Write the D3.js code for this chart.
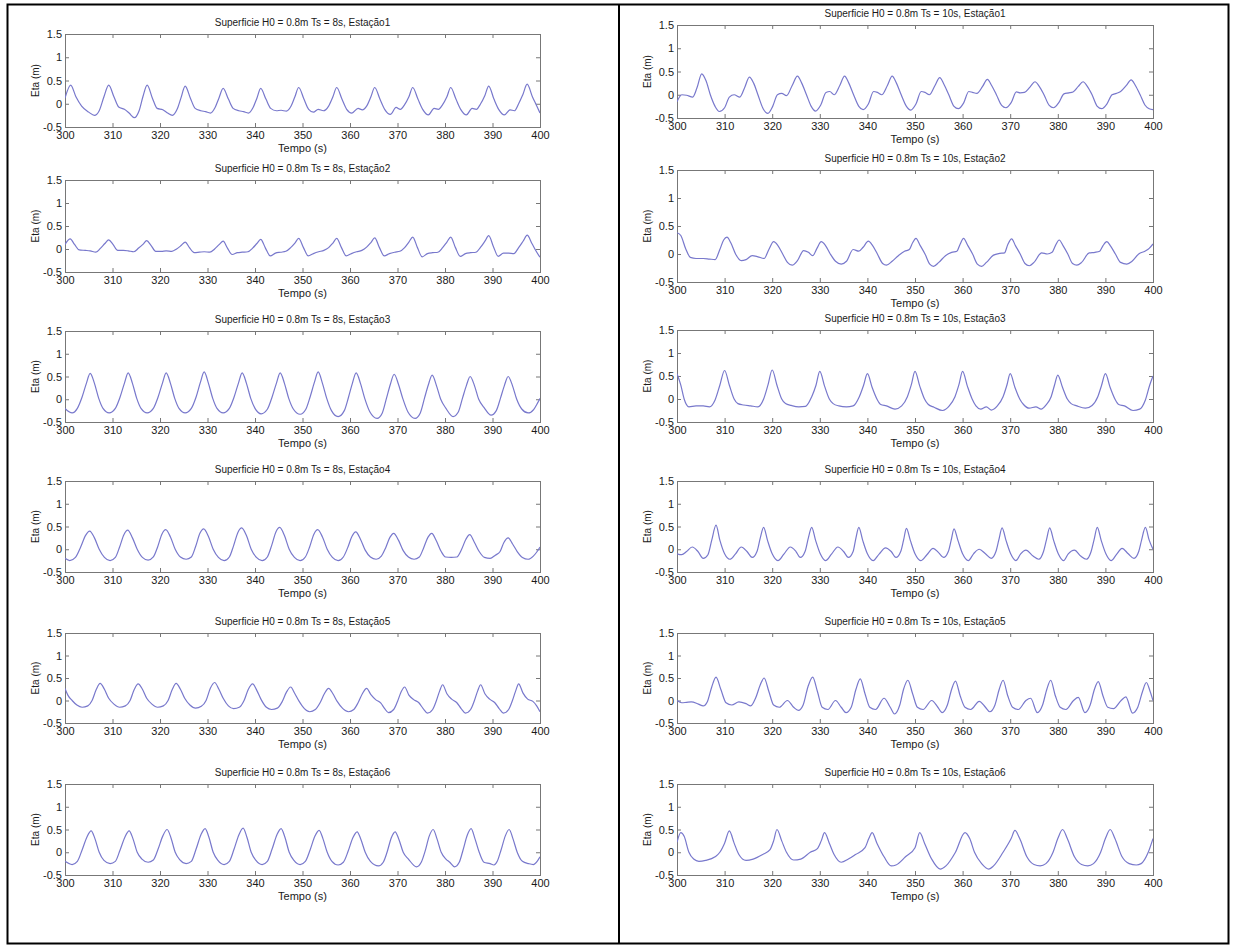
<!DOCTYPE html>
<html><head><meta charset="utf-8">
<script src="https://cdn.jsdelivr.net/npm/d3@7"></script>
<style>
body{margin:0;background:#fff}
svg{display:block}
text{font-family:"Liberation Sans",Arial,sans-serif;fill:#1a1a1a}
</style>
</head><body>
<svg id="c" width="1236" height="949"></svg>
<script>
// ---------- data ----------
const xTicks = [300,310,320,330,340,350,360,370,380,390,400];
const yTicks = [-0.5,0,0.5,1,1.5];
const yTickLabels = ["-0.5","0","0.5","1","1.5"];
const xLabel = "Tempo (s)";
const yLabel = "Eta (m)";
const periods = ["8s","10s"];
const stations = ["Estação1","Estação2","Estação3","Estação4","Estação5","Estação6"];

// Ts = 8s
const s8_1 = [[300,0.12],[301.2,0.4],[302.3,0.15],[303.5,-0.05],[305,-0.18],[306.2,-0.25],[307.2,-0.15],[308.2,0.15],[309.2,0.4],[310.3,0.15],[311.3,-0.07],[312.5,-0.12],[313.5,-0.2],[314.6,-0.3],[315.6,-0.15],[316.4,0.15],[317.3,0.4],[318.4,0.12],[319.4,-0.1],[320.6,-0.13],[321.6,-0.2],[322.6,-0.25],[323.6,-0.12],[324.4,0.12],[325.3,0.38],[326.4,0.12],[327.4,-0.1],[328.6,-0.15],[329.6,-0.17],[330.6,-0.2],[331.6,-0.08],[332.4,0.12],[333.3,0.33],[334.4,0.1],[335.4,-0.1],[336.6,-0.15],[337.6,-0.17],[338.6,-0.2],[339.6,-0.08],[340.4,0.12],[341.2,0.33],[342.3,0.1],[343.3,-0.1],[344.5,-0.15],[345.5,-0.14],[346.6,-0.16],[347.6,-0.05],[348.4,0.15],[349.2,0.35],[350.3,0.1],[351.3,-0.12],[352.3,-0.18],[353.3,-0.12],[354.4,-0.15],[355.5,-0.05],[356.4,0.15],[357.2,0.35],[358.3,0.1],[359.3,-0.12],[360.4,-0.2],[361.7,-0.1],[362.6,-0.13],[363.5,-0.05],[364.4,0.15],[365.2,0.35],[366.3,0.1],[367.3,-0.12],[368.5,-0.23],[369.7,-0.08],[370.6,-0.12],[371.5,-0.02],[372.4,0.15],[373.2,0.35],[374.3,0.1],[375.3,-0.12],[376.5,-0.24],[377.7,-0.1],[378.6,-0.12],[379.5,-0.02],[380.4,0.15],[381.2,0.35],[382.3,0.1],[383.3,-0.12],[384.5,-0.24],[385.7,-0.1],[386.6,-0.12],[387.5,0],[388.4,0.18],[389.2,0.38],[390.3,0.1],[391.3,-0.12],[392.5,-0.24],[393.7,-0.13],[394.6,-0.15],[395.5,0],[396.4,0.2],[397.3,0.42],[398.4,0.15],[399.2,-0.02],[400,-0.2]];
const s8_2 = [[300,0.1],[301.1,0.22],[302,0.1],[303,-0.02],[304.3,-0.03],[305.3,-0.04],[306.5,-0.07],[307.5,0.02],[308.4,0.12],[309.2,0.2],[310.1,0.1],[311.1,-0.03],[312.3,-0.03],[313.3,-0.04],[314.5,-0.06],[315.5,0.02],[316.4,0.1],[317.2,0.18],[318.1,0.08],[319.1,-0.05],[320.3,-0.05],[321.3,-0.04],[322.5,-0.05],[323.5,0],[324.5,0.08],[325.3,0.15],[326.2,0.03],[327.2,-0.08],[328.3,-0.07],[329.3,-0.06],[330.5,-0.07],[331.5,0],[332.5,0.1],[333.3,0.17],[334.2,0.02],[335.2,-0.12],[336.3,-0.08],[337.3,-0.07],[338.5,-0.06],[339.5,0.02],[340.4,0.12],[341.2,0.21],[342.2,0.02],[343.2,-0.15],[344.3,-0.09],[345.4,-0.07],[346.5,-0.05],[347.5,0.03],[348.4,0.13],[349.2,0.23],[350.2,0.03],[351.2,-0.15],[352.3,-0.1],[353.4,-0.06],[354.5,-0.03],[355.5,0.03],[356.4,0.13],[357.2,0.23],[358.2,0.03],[359.2,-0.15],[360.3,-0.1],[361.4,-0.06],[362.5,-0.03],[363.5,0.04],[364.4,0.14],[365.2,0.24],[366.2,0.03],[367.2,-0.15],[368.3,-0.1],[369.4,-0.07],[370.5,-0.05],[371.5,0.03],[372.4,0.15],[373.2,0.26],[374.2,0.03],[375.2,-0.17],[376.3,-0.1],[377.4,-0.08],[378.5,-0.07],[379.5,0.03],[380.4,0.15],[381.2,0.26],[382.2,0.03],[383.2,-0.16],[384.3,-0.1],[385.4,-0.08],[386.5,-0.07],[387.5,0.04],[388.4,0.17],[389.2,0.29],[390.2,0.05],[391.2,-0.16],[392.3,-0.09],[393.4,-0.09],[394.5,-0.1],[395.5,0.03],[396.5,0.18],[397.3,0.3],[398.3,0.12],[399.2,-0.05],[400,-0.18]];
const s8_3 = [[300,-0.2],[301.5,-0.3],[302.6,-0.2],[303.6,0.05],[304.5,0.35],[305.3,0.57],[306.2,0.35],[307.1,0.02],[308,-0.2],[309.3,-0.3],[310.6,-0.2],[311.6,0.05],[312.5,0.35],[313.3,0.58],[314.2,0.35],[315.1,0.02],[316,-0.2],[317.3,-0.3],[318.6,-0.2],[319.6,0.05],[320.5,0.35],[321.3,0.58],[322.2,0.35],[323.1,0.02],[324,-0.2],[325.3,-0.3],[326.6,-0.2],[327.6,0.05],[328.5,0.37],[329.3,0.6],[330.2,0.35],[331.1,0.02],[332,-0.2],[333.3,-0.3],[334.6,-0.2],[335.6,0.05],[336.5,0.35],[337.3,0.58],[338.2,0.35],[339.1,0.02],[340,-0.2],[341.3,-0.32],[342.6,-0.22],[343.6,0.05],[344.5,0.35],[345.3,0.58],[346.2,0.35],[347.1,0.02],[348.1,-0.22],[349.5,-0.33],[350.7,-0.22],[351.6,0.05],[352.5,0.37],[353.3,0.6],[354.2,0.35],[355.1,0.02],[356.1,-0.25],[357.5,-0.38],[358.8,-0.25],[359.7,0.05],[360.5,0.35],[361.3,0.58],[362.2,0.35],[363.1,0.02],[364.2,-0.28],[365.7,-0.42],[366.8,-0.3],[367.7,0.03],[368.5,0.33],[369.3,0.55],[370.2,0.33],[371.1,0.02],[372.2,-0.28],[373.7,-0.42],[374.8,-0.3],[375.7,0.03],[376.5,0.32],[377.3,0.53],[378.2,0.3],[379.1,0],[380.2,-0.2],[381.7,-0.38],[382.8,-0.28],[383.7,0.03],[384.5,0.3],[385.3,0.5],[386.2,0.3],[387.1,0],[388.2,-0.18],[389.7,-0.35],[390.8,-0.25],[391.7,0.03],[392.5,0.3],[393.3,0.5],[394.2,0.3],[395.1,0],[396.2,-0.22],[397.5,-0.3],[398.7,-0.22],[399.5,-0.08],[400,0.02]];
const s8_4 = [[300,-0.2],[301,-0.25],[302.2,-0.18],[303.3,0.05],[304.3,0.3],[305.2,0.4],[306.2,0.25],[307.2,0],[308.3,-0.18],[309.5,-0.25],[310.6,-0.18],[311.5,0.05],[312.4,0.32],[313.2,0.42],[314.2,0.25],[315.2,0],[316.3,-0.18],[317.5,-0.24],[318.6,-0.17],[319.5,0.05],[320.4,0.33],[321.2,0.43],[322.2,0.27],[323.2,0],[324.3,-0.17],[325.5,-0.22],[326.6,-0.17],[327.5,0.06],[328.4,0.35],[329.2,0.45],[330.2,0.28],[331.2,0],[332.3,-0.18],[333.5,-0.25],[334.6,-0.17],[335.5,0.08],[336.4,0.37],[337.2,0.47],[338.2,0.3],[339.2,0],[340.3,-0.18],[341.5,-0.25],[342.6,-0.17],[343.5,0.08],[344.4,0.38],[345.2,0.48],[346.2,0.3],[347.2,0],[348.3,-0.18],[349.5,-0.25],[350.6,-0.17],[351.5,0.05],[352.4,0.33],[353.2,0.43],[354.2,0.27],[355.2,0],[356.3,-0.18],[357.5,-0.25],[358.6,-0.17],[359.5,0.03],[360.4,0.28],[361.2,0.38],[362.2,0.22],[363.2,-0.02],[364.3,-0.17],[365.5,-0.22],[366.6,-0.15],[367.5,0.03],[368.4,0.26],[369.2,0.35],[370.2,0.2],[371.2,-0.03],[372.3,-0.17],[373.5,-0.22],[374.6,-0.17],[375.5,0.03],[376.4,0.26],[377.2,0.35],[378.2,0.18],[379.2,-0.05],[380.1,-0.17],[381.3,-0.18],[382.5,-0.17],[383.5,0],[384.4,0.22],[385.2,0.32],[386.2,0.15],[387.2,-0.05],[388.3,-0.18],[389.5,-0.2],[390.6,-0.13],[391.6,-0.05],[392.4,0.15],[393.3,0.25],[394.2,0.12],[395.2,-0.05],[396.3,-0.18],[397.5,-0.22],[398.6,-0.15],[399.4,-0.05],[400,0.05]];
const s8_5 = [[300,0.27],[300.6,0.12],[301.5,0],[302.5,-0.1],[303.6,-0.15],[304.8,-0.12],[305.7,0],[306.6,0.25],[307.4,0.38],[308.3,0.25],[309.2,0.05],[310.3,-0.08],[311.5,-0.15],[312.7,-0.12],[313.7,0],[314.6,0.25],[315.4,0.37],[316.3,0.25],[317.2,0.05],[318.3,-0.08],[319.5,-0.15],[320.7,-0.12],[321.7,0],[322.6,0.25],[323.4,0.38],[324.3,0.25],[325.2,0.05],[326.3,-0.1],[327.5,-0.17],[328.7,-0.13],[329.7,0],[330.6,0.27],[331.5,0.4],[332.4,0.25],[333.3,0.05],[334.4,-0.12],[335.5,-0.18],[336.7,-0.15],[337.7,0],[338.6,0.25],[339.5,0.37],[340.4,0.22],[341.3,0.02],[342.4,-0.15],[343.5,-0.2],[344.7,-0.17],[345.7,-0.03],[346.6,0.18],[347.5,0.3],[348.4,0.15],[349.3,-0.02],[350.4,-0.18],[351.5,-0.25],[352.7,-0.2],[353.7,-0.05],[354.6,0.15],[355.5,0.27],[356.4,0.15],[357.3,-0.02],[358.5,-0.18],[359.7,-0.25],[360.8,-0.2],[361.7,-0.05],[362.6,0.15],[363.5,0.27],[364.4,0.13],[365.4,0.02],[366.5,-0.06],[367.3,-0.18],[368.1,-0.27],[369.2,-0.2],[370,-0.02],[370.8,0.2],[371.5,0.3],[372.4,0.12],[373.4,0.02],[374.5,-0.05],[375.4,-0.18],[376.3,-0.28],[377.4,-0.2],[378.2,0],[378.9,0.22],[379.5,0.35],[380.4,0.15],[381.4,0.03],[382.5,-0.05],[383.4,-0.18],[384.3,-0.28],[385.4,-0.2],[386.2,0],[386.9,0.22],[387.5,0.35],[388.4,0.15],[389.4,0.03],[390.5,-0.05],[391.4,-0.18],[392.3,-0.28],[393.4,-0.2],[394.2,0],[394.9,0.22],[395.5,0.37],[396.4,0.17],[397.4,0.03],[398.5,-0.02],[399.3,-0.12],[400,-0.25]];
const s8_6 = [[300,-0.2],[301.5,-0.27],[302.6,-0.2],[303.6,0.05],[304.6,0.33],[305.5,0.47],[306.3,0.3],[307.2,0],[308.2,-0.18],[309.5,-0.25],[310.6,-0.2],[311.6,0.05],[312.6,0.33],[313.5,0.47],[314.3,0.3],[315.2,0],[316.2,-0.15],[317.5,-0.22],[318.6,-0.17],[319.6,0.07],[320.6,0.36],[321.5,0.5],[322.3,0.32],[323.2,0],[324.2,-0.17],[325.5,-0.25],[326.6,-0.2],[327.6,0.07],[328.6,0.38],[329.5,0.52],[330.3,0.33],[331.2,0],[332.2,-0.18],[333.5,-0.27],[334.6,-0.2],[335.6,0.07],[336.6,0.38],[337.5,0.53],[338.3,0.33],[339.2,0],[340.2,-0.18],[341.5,-0.27],[342.6,-0.2],[343.6,0.07],[344.6,0.38],[345.5,0.52],[346.3,0.33],[347.2,0],[348.2,-0.18],[349.5,-0.27],[350.6,-0.2],[351.6,0.05],[352.6,0.35],[353.5,0.48],[354.3,0.3],[355.2,0],[356.2,-0.2],[357.5,-0.28],[358.6,-0.22],[359.6,0.02],[360.6,0.32],[361.5,0.45],[362.3,0.28],[363.2,0],[364.3,-0.2],[366,-0.3],[367,-0.22],[367.8,0],[368.7,0.32],[369.5,0.45],[370.3,0.28],[371.2,0],[372.3,-0.15],[374,-0.32],[375,-0.22],[375.8,0.02],[376.7,0.36],[377.5,0.5],[378.3,0.3],[379.2,0],[380.2,-0.15],[381,-0.22],[382,-0.32],[383,-0.22],[383.8,0.05],[384.7,0.38],[385.5,0.52],[386.3,0.3],[387.2,0],[388.2,-0.22],[389.5,-0.25],[390.3,-0.28],[391,-0.2],[391.8,0.05],[392.7,0.36],[393.5,0.5],[394.3,0.3],[395.2,0],[396.3,-0.2],[397.6,-0.25],[398.6,-0.27],[399.4,-0.2],[400,-0.1]];

// Ts = 10s
const s10_1 = [[300,-0.15],[301,0],[302,-0.01],[303.3,-0.05],[304.2,0.15],[305.2,0.45],[306.1,0.3],[307,0],[308,-0.25],[308.9,-0.36],[310,-0.28],[311,-0.05],[312,0],[313.2,-0.05],[314.2,0.15],[315.2,0.38],[316.1,0.25],[317,0],[318.1,-0.3],[319.1,-0.4],[320.1,-0.25],[321.1,0],[322,0.03],[323,-0.02],[324.2,0.2],[325.3,0.4],[326.2,0.25],[327.2,0],[328.2,-0.25],[329.1,-0.35],[330.2,-0.22],[331.3,0.05],[332.1,0.07],[333,0],[334.2,0.2],[335.2,0.4],[336.1,0.25],[337.1,0],[338.2,-0.25],[339.1,-0.32],[340.2,-0.2],[341.3,0.07],[342.1,0.05],[343,0],[344.2,0.2],[345.2,0.4],[346.1,0.25],[347.1,0],[348.2,-0.25],[349.1,-0.33],[350.2,-0.2],[351.3,0.07],[352.1,0.05],[353,0],[354.2,0.2],[355.2,0.37],[356.1,0.22],[357.1,0],[358.2,-0.25],[359.1,-0.3],[360.2,-0.18],[361.3,0.07],[362.1,0.05],[363,0.03],[364.2,0.18],[365.2,0.33],[366.1,0.2],[367.1,0],[368.2,-0.23],[369.1,-0.28],[370.2,-0.17],[371.3,0.06],[372.1,0.04],[373,0.05],[374.2,0.17],[375.2,0.28],[376.1,0.18],[377.1,0],[378.2,-0.23],[379.1,-0.28],[380.2,-0.17],[381.3,0.02],[382.3,0.04],[383.2,0.06],[384.3,0.18],[385.3,0.28],[386.2,0.18],[387.2,0],[388.3,-0.25],[389.2,-0.3],[390.3,-0.2],[391.4,0],[392.3,0.03],[393.2,0.07],[394.4,0.2],[395.4,0.32],[396.3,0.2],[397.3,0],[398.3,-0.22],[399.2,-0.3],[400,-0.32]];
const s10_2 = [[300,0.38],[300.8,0.33],[301.8,0.1],[302.8,-0.06],[304,-0.08],[305.5,-0.08],[306.8,-0.09],[308,-0.1],[309,0.08],[309.8,0.25],[310.5,0.3],[311.3,0.2],[312.3,0],[313.5,-0.12],[314.5,-0.1],[315.8,-0.03],[317,-0.05],[318.3,-0.08],[319.3,0.08],[320.3,0.22],[321.2,0.15],[322.2,0],[323.2,-0.15],[324.2,-0.2],[325.3,-0.12],[326.6,0.06],[327.6,0.03],[328.5,-0.03],[329.4,0.1],[330.3,0.22],[331.2,0.15],[332.2,0],[333.3,-0.13],[334.5,-0.18],[335.6,-0.13],[337,0.08],[338.2,0.05],[339.1,0.12],[340.2,0.23],[341.1,0.15],[342.1,0],[343.2,-0.17],[344,-0.2],[345.2,-0.13],[346.5,-0.03],[347.8,0.05],[348.8,0.08],[349.5,0.2],[350.2,0.28],[351.1,0.15],[352.1,0],[353.1,-0.18],[353.9,-0.22],[355,-0.15],[356.4,-0.03],[357.7,0.03],[358.8,0.05],[359.5,0.18],[360.2,0.28],[361.1,0.15],[362.1,0],[363.1,-0.18],[364,-0.22],[365,-0.15],[366.5,-0.02],[367.8,0.01],[368.8,0.02],[369.5,0.17],[370.3,0.27],[371.1,0.15],[372.1,0],[373.1,-0.17],[374,-0.21],[375,-0.15],[376.6,0.02],[377.8,0],[378.8,0.03],[379.5,0.15],[380.3,0.25],[381.1,0.15],[382.1,0],[383.1,-0.17],[384,-0.2],[385,-0.15],[386.6,0.02],[387.8,0.03],[388.8,0.05],[389.5,0.15],[390.3,0.22],[391.1,0.14],[392.1,0],[393.2,-0.15],[394.5,-0.18],[395.6,-0.13],[397,0],[398.3,0.05],[399.2,0.1],[400,0.18]];
const s10_3 = [[300,0.55],[300.8,0.3],[301.5,0],[302.5,-0.17],[304,-0.15],[305.5,-0.15],[306.8,-0.17],[308,-0.02],[309,0.3],[310,0.62],[311,0.3],[312,0],[312.8,-0.1],[314,-0.13],[315.5,-0.15],[317,-0.17],[318.2,0],[319.1,0.3],[320,0.63],[321,0.3],[322,0],[322.8,-0.1],[324,-0.14],[325.6,-0.17],[327,-0.16],[328.3,0.05],[329.2,0.3],[330,0.6],[331,0.28],[332,0],[332.8,-0.1],[334,-0.15],[335.6,-0.17],[337,-0.15],[338.3,0.05],[339.2,0.3],[340,0.55],[341,0.25],[342,0],[342.8,-0.12],[344,-0.15],[345.8,-0.22],[347.2,-0.15],[348.4,0.05],[349.2,0.3],[350,0.6],[351,0.28],[352,0],[352.8,-0.12],[354,-0.18],[355.8,-0.25],[357.2,-0.15],[358.4,0.05],[359.2,0.3],[360,0.6],[361,0.28],[362,0],[362.8,-0.15],[363.8,-0.22],[365,-0.17],[366,-0.24],[367.3,-0.15],[368.5,0.05],[369.3,0.3],[370,0.55],[371,0.25],[372,0],[372.8,-0.12],[374,-0.2],[375.4,-0.17],[376.5,-0.22],[377.6,-0.12],[378.6,0.05],[379.3,0.3],[380,0.52],[381,0.25],[382,0],[382.8,-0.1],[384,-0.15],[385.8,-0.2],[387.2,-0.14],[388.4,0.05],[389.2,0.3],[390,0.55],[391,0.25],[392,0],[392.8,-0.12],[394,-0.15],[395.8,-0.25],[397.2,-0.22],[398.4,-0.02],[399.3,0.3],[400,0.5]];
const s10_4 = [[300,-0.1],[301,-0.12],[302,-0.05],[303.2,0.05],[304.4,-0.05],[305.5,-0.2],[306.5,-0.12],[307.3,0.2],[308.2,0.53],[309,0.2],[310,-0.1],[311.1,-0.22],[312.3,-0.1],[313.5,0.05],[314.7,-0.05],[315.8,-0.18],[316.8,-0.05],[317.5,0.25],[318.2,0.48],[319,0.2],[320,-0.1],[321.2,-0.25],[322.5,-0.1],[323.8,0.05],[325,-0.05],[325.9,-0.18],[326.9,-0.05],[327.6,0.25],[328.3,0.48],[329.1,0.2],[330.1,-0.1],[331.2,-0.25],[332.5,-0.1],[333.8,0.05],[335,-0.05],[336,-0.18],[337,-0.05],[337.6,0.25],[338.2,0.48],[339,0.2],[340,-0.1],[341.2,-0.25],[342.5,-0.1],[343.8,0.03],[345,-0.05],[346,-0.18],[347,-0.05],[347.6,0.2],[348.2,0.46],[349,0.2],[350,-0.1],[351.2,-0.25],[352.5,-0.12],[353.8,0.02],[355,-0.08],[356,-0.18],[357,-0.05],[357.6,0.2],[358.2,0.45],[359,0.2],[360,-0.1],[361.2,-0.25],[362.3,-0.1],[363.5,0],[364.8,-0.1],[366,-0.2],[367,-0.05],[367.6,0.2],[368.3,0.47],[369.1,0.2],[370.1,-0.1],[371.2,-0.25],[372.2,-0.1],[373.3,-0.02],[374.8,-0.15],[376,-0.22],[377,-0.05],[377.6,0.2],[378.3,0.47],[379.1,0.2],[380.1,-0.1],[381.2,-0.25],[382.2,-0.1],[383.5,-0.02],[384.8,-0.15],[386,-0.22],[387,-0.05],[387.6,0.2],[388.3,0.48],[389.1,0.2],[390.1,-0.1],[391.2,-0.25],[392.3,-0.12],[393.5,0.02],[394.8,-0.1],[396,-0.2],[397,-0.05],[397.6,0.2],[398.4,0.48],[399.2,0.2],[400,0]];
const s10_5 = [[300,0],[301,-0.05],[302,-0.04],[303,-0.03],[304.5,-0.08],[305.5,-0.12],[306.4,-0.02],[307.3,0.3],[308.2,0.52],[309.2,0.25],[310.3,-0.05],[311.5,-0.1],[313,-0.03],[314.5,-0.07],[315.5,-0.12],[316.5,0.05],[317.5,0.35],[318.3,0.5],[319.3,0.2],[320.3,-0.1],[321.5,-0.15],[323.2,0],[324.5,-0.15],[325.5,-0.22],[326.5,-0.1],[327.5,0.3],[328.5,0.52],[329.5,0.2],[330.5,-0.15],[331.7,-0.2],[333.3,0],[334.5,-0.15],[335.5,-0.27],[336.6,-0.15],[337.6,0.25],[338.5,0.48],[339.5,0.15],[340.5,-0.15],[341.7,-0.2],[343.5,0.05],[344.8,-0.15],[345.7,-0.3],[346.8,-0.1],[347.6,0.25],[348.5,0.45],[349.5,0.15],[350.5,-0.15],[351.7,-0.2],[353.5,0],[354.8,-0.15],[355.7,-0.27],[356.8,-0.1],[357.7,0.25],[358.5,0.43],[359.5,0.1],[360.5,-0.15],[361.7,-0.2],[363.5,-0.02],[364.8,-0.15],[365.7,-0.25],[366.8,-0.1],[367.7,0.25],[368.5,0.45],[369.5,0.1],[370.5,-0.15],[371.7,-0.2],[373.3,0],[374.3,0.05],[375.7,-0.27],[376.8,-0.1],[377.7,0.25],[378.5,0.45],[379.5,0.1],[380.5,-0.15],[381.7,-0.2],[383.3,0],[384.3,0.07],[385.7,-0.27],[386.8,-0.1],[387.7,0.25],[388.5,0.42],[389.5,0.1],[390.5,-0.15],[391.7,-0.18],[393.3,0],[394.3,0.08],[395.7,-0.28],[396.8,-0.15],[397.8,0.2],[398.6,0.4],[399.4,0.2],[400,0]];
const s10_6 = [[300,0.22],[300.8,0.43],[301.5,0.35],[302.5,0],[303.5,-0.15],[304.6,-0.2],[306,-0.18],[308,-0.1],[309,0],[310,0.2],[311,0.47],[312,0.2],[313,-0.05],[314.5,-0.18],[316,-0.15],[318,-0.05],[319.5,0.05],[320.3,0.25],[321,0.5],[322,0.25],[323,0],[324.5,-0.17],[326,-0.15],[328,0],[329.5,0.08],[330.3,0.25],[331,0.43],[332,0.2],[333,-0.05],[334.5,-0.22],[336,-0.15],[337.5,-0.05],[339.5,0.1],[340.3,0.3],[341,0.43],[342,0.2],[343.5,-0.1],[345,-0.3],[346,-0.28],[348,-0.1],[350,0.1],[351,0.43],[352,0.2],[353.5,-0.15],[355.3,-0.37],[356.5,-0.3],[358.5,0],[360.5,0.43],[361.5,0.3],[362.5,0],[364,-0.25],[365.5,-0.37],[366.5,-0.3],[368.5,0],[370.2,0.3],[371,0.48],[372,0.3],[373.5,-0.1],[375,-0.27],[376.3,-0.3],[377.5,-0.25],[379,0],[380,0.3],[381,0.5],[382,0.3],[383.5,-0.1],[385,-0.27],[386.3,-0.3],[387.5,-0.25],[389,0],[390,0.3],[391,0.5],[392,0.3],[393.5,-0.1],[395,-0.25],[396.5,-0.28],[397.5,-0.25],[399,0],[400,0.3]];

const series8 = [s8_1,s8_2,s8_3,s8_4,s8_5,s8_6];
const series10 = [s10_1,s10_2,s10_3,s10_4,s10_5,s10_6];

// ---------- layout ----------
const W = 1236, H = 949;
const cols = [
  {x0:65, x1:540, tops:[34,180,331,481,633,784], bots:[127,272,422,572,723,875], data:series8, ts:periods[0]},
  {x0:677, x1:1153, tops:[25,170,330,481,633,784], bots:[118,282,422,572,723,875], data:series10, ts:periods[1]}
];

const svg = d3.select("#c");
svg.append("rect").attr("width",W).attr("height",H).attr("fill","#fff");

// outer frame
svg.append("rect").attr("x",7.5).attr("y",4.5).attr("width",1221).attr("height",939)
  .attr("fill","none").attr("stroke","#000").attr("stroke-width",2);
svg.append("line").attr("x1",619).attr("x2",619).attr("y1",4).attr("y2",944)
  .attr("stroke","#000").attr("stroke-width",2);

const defs = svg.append("defs");
let clipId = 0;

cols.forEach(col => {
  col.data.forEach((d, i) => {
    const top = col.tops[i];
    const plotH = col.bots[i] - top;
    const w = col.x1 - col.x0;
    const x = d3.scaleLinear().domain([300,400]).range([0,w]);
    const y = d3.scaleLinear().domain([-0.5,1.5]).range([plotH,0]);
    const g = svg.append("g").attr("transform",`translate(${col.x0},${top})`);

    const ax = d3.axisBottom(x).tickValues(xTicks).tickSize(-4).tickPadding(3).tickFormat(d3.format("d"));
    const gx = g.append("g").attr("transform",`translate(0,${plotH})`).call(ax);
    const axT = d3.axisTop(x).tickValues(xTicks).tickSize(-4).tickFormat("");
    const gxt = g.append("g").call(axT);
    const ay = d3.axisLeft(y).tickValues(yTicks).tickSize(-4).tickPadding(3).tickFormat((v,k)=>yTickLabels[k]);
    const gy = g.append("g").call(ay);
    const ayR = d3.axisRight(y).tickValues(yTicks).tickSize(-4).tickFormat("");
    const gyr = g.append("g").attr("transform",`translate(${w},0)`).call(ayR);
    [gx,gxt,gy,gyr].forEach(a=>{
      a.select(".domain").remove();
      a.selectAll("line").attr("stroke","#777");
      a.selectAll("text").attr("font-size",11).attr("fill","#1a1a1a").attr("font-family","'Liberation Sans',Arial,sans-serif");
    });
    gx.selectAll("text").attr("dy","0.85em");

    g.append("rect").attr("x",0.5).attr("y",0.5).attr("width",w).attr("height",plotH)
      .attr("fill","none").attr("stroke","#777").attr("stroke-width",1);

    const cid = "clip"+(clipId++);
    defs.append("clipPath").attr("id",cid).append("rect").attr("width",w).attr("height",plotH);
    const line = d3.line().x(p=>x(p[0])).y(p=>y(p[1])).curve(d3.curveMonotoneX);
    g.append("path").attr("clip-path",`url(#${cid})`).attr("d",line(d))
      .attr("fill","none").attr("stroke","#7878cc").attr("stroke-width",1.2);

    g.append("text").attr("x",w/2).attr("y",-8).attr("text-anchor","middle")
      .attr("font-size",10).text(`Superficie H0 = 0.8m Ts = ${col.ts}, ${stations[i]}`);
    g.append("text").attr("x",w/2).attr("y",plotH+25).attr("text-anchor","middle")
      .attr("font-size",11).text(xLabel);
    g.append("text").attr("transform",`translate(-26,${plotH/2}) rotate(-90)`)
      .attr("text-anchor","middle").attr("font-size",10).text(yLabel);
  });
});
</script>
</body></html>
